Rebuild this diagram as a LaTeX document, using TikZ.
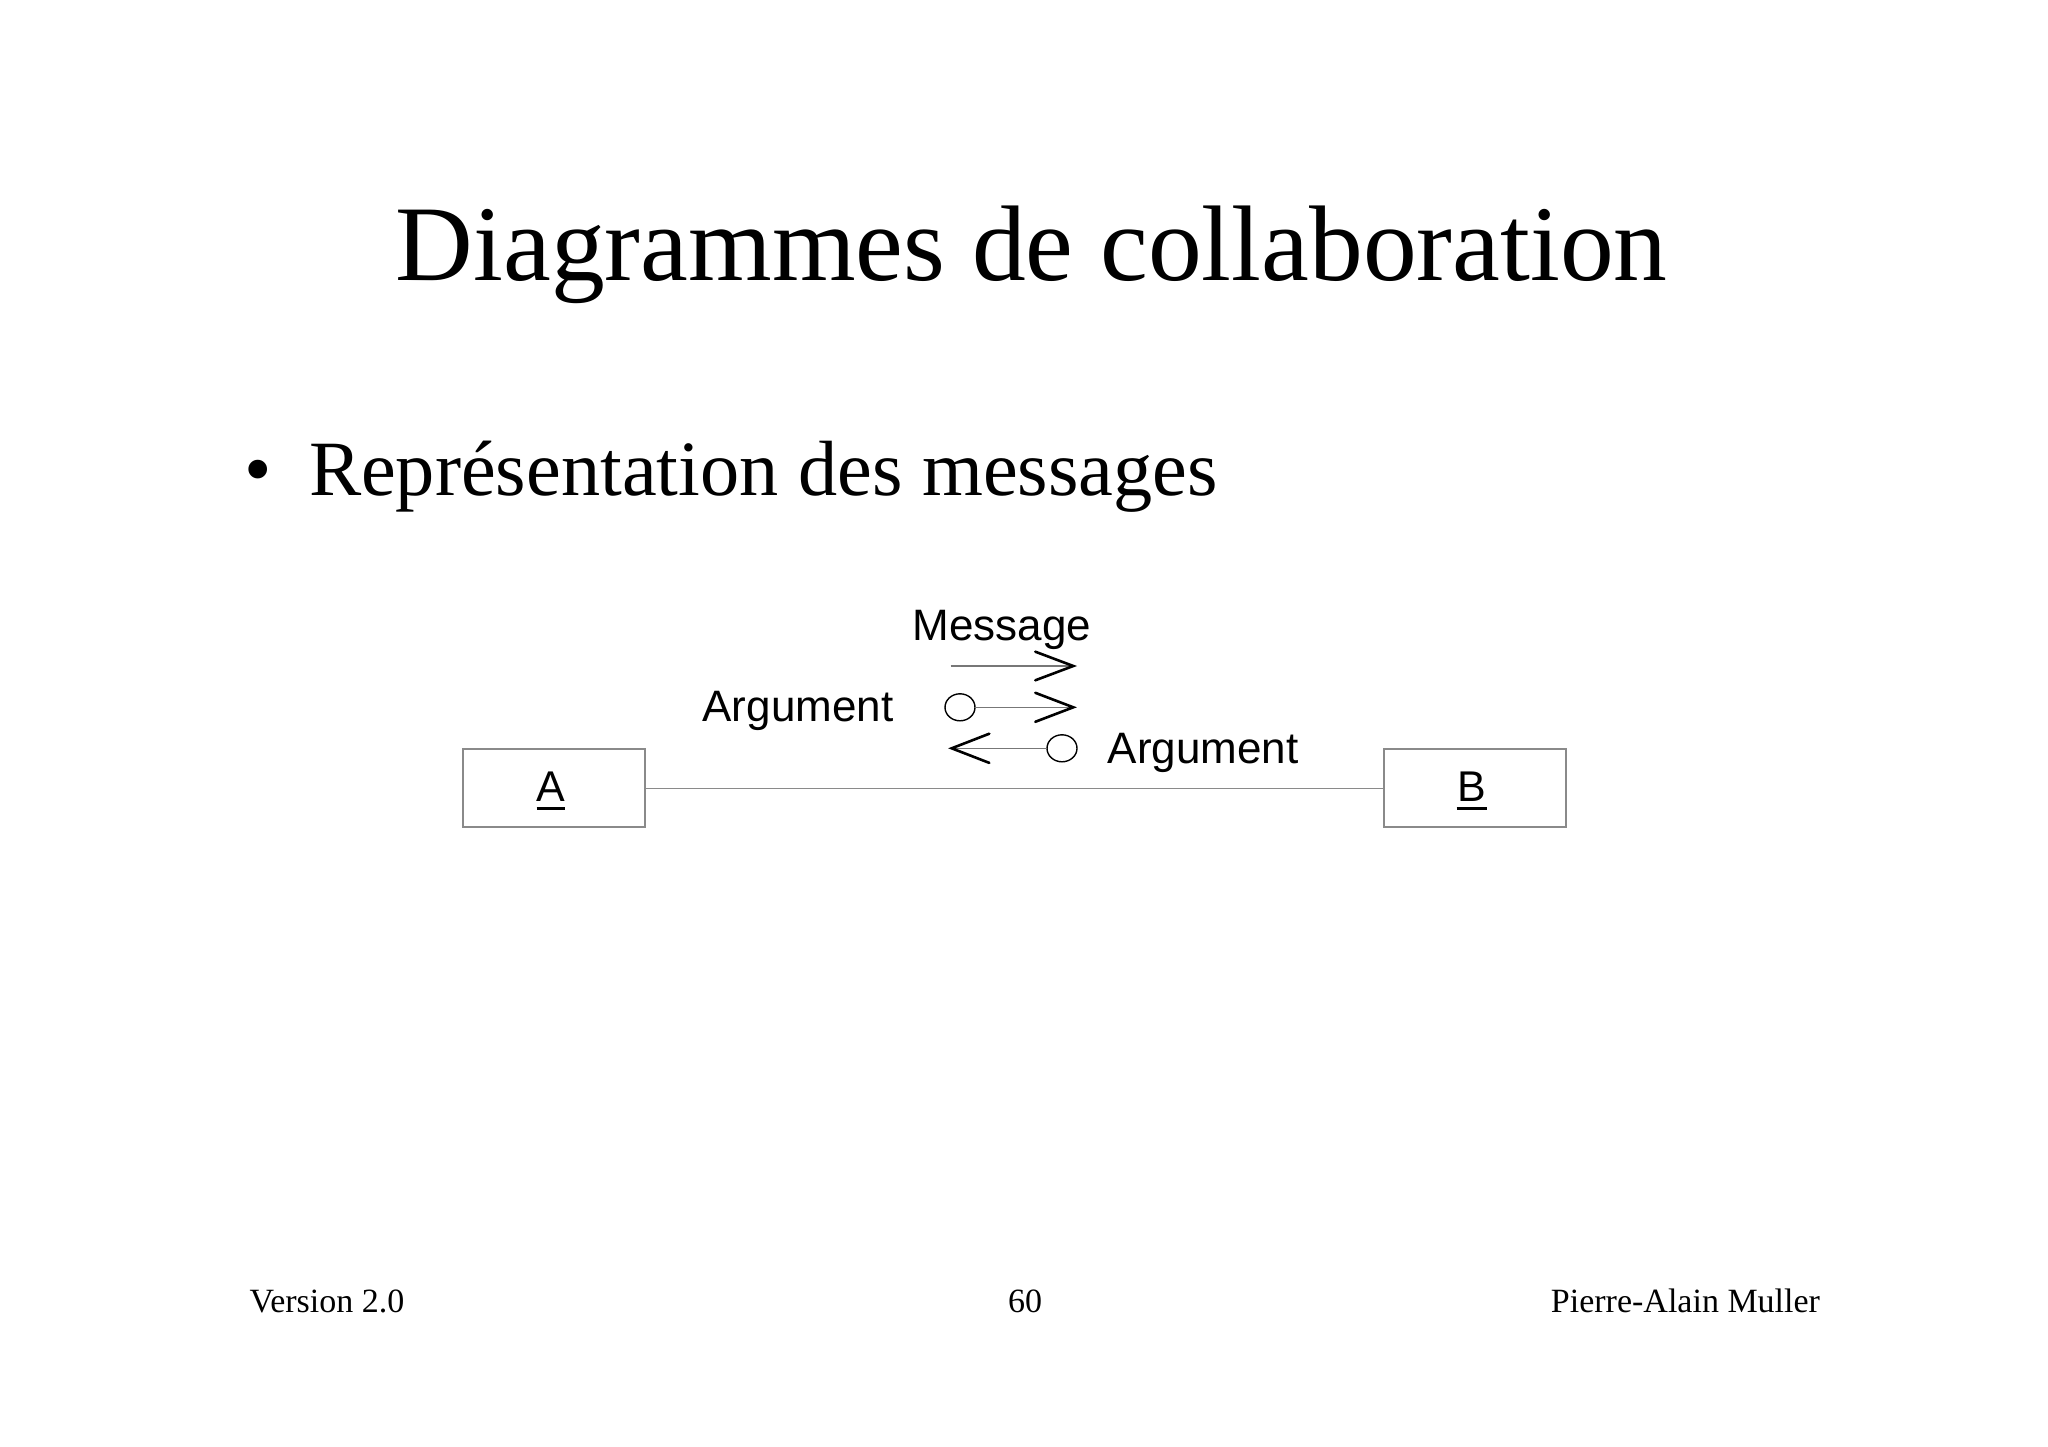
\documentclass[tikz,border=0pt]{standalone}
\usepackage{fontspec}
\setmainfont{Liberation Serif}
\newfontfamily\arialfont{Liberation Sans}
\usetikzlibrary{calc,shapes.geometric}
\definecolor{boxgray}{HTML}{8A8A8A}
\definecolor{shaftgray}{HTML}{777777}
\tikzset{
  txt/.style={inner sep=0pt, outer sep=0pt, anchor=base},
  titletxt/.style={txt, font=\fontsize{107.5}{120}\selectfont},
  bullettxt/.style={txt, anchor=base west, font=\fontsize{78.3}{90}\selectfont},
  foottxt/.style={txt, font=\fontsize{34}{40}\selectfont},
  umltxt/.style={txt, font=\arialfont\fontsize{44}{50}\selectfont},
  objbox/.style={draw=boxgray, line width=1.8pt, minimum width=181.7pt, minimum height=78pt, inner sep=0pt, outer sep=0pt},
  objlabel/.style={txt, font=\arialfont\fontsize{43}{48}\selectfont},
  uline/.style={line width=2.6pt, black},
  link/.style={draw=boxgray, line width=1.6pt},
  shaft/.style={draw=shaftgray, line width=1.6pt},
  head/.style={draw=black, line width=2.6pt, line cap=round, line join=miter},
  argcirc/.style={ellipse, draw=black, line width=1.4pt, minimum width=30pt, minimum height=27pt, inner sep=0pt, outer sep=0pt}
}
\begin{document}
\begin{tikzpicture}[x=1pt, y=-1pt]
\useasboundingbox[fill=white] (0,0) rectangle (2048,1447);

% title and bullet
\node[titletxt] (title) at (1031.7,280.7) {Diagrammes de collaboration};
\node[bullettxt] (bul) at (244,495) {•};
\node[bullettxt] (point) at (309,495) {Représentation des messages};

% objects
\node[objbox] (A) at (554.2,788.3) {};
\node[objbox] (B) at (1474.8,788.3) {};
\node[objlabel] (la) at (551,801.7) {A};
\node[objlabel] (lb) at (1472,801.7) {B};
\draw[uline] ($(la.base west)+(0,6.8)$) -- ($(la.base east)+(0,6.8)$);
\draw[uline] ($(lb.base west)+(-1,6.8)$) -- ($(lb.base east)+(1,6.8)$);
\draw[link] (A.east) -- (B.west);

% message arrow
\node[umltxt] (msg) at (1001.9,640.7) {Message};
\coordinate (s1) at (950.7,666);
\coordinate (t1) at (1073.3,666);
\draw[shaft] (s1) -- (t1);
\draw[head] ($(t1)+(-38,-14.3)$) -- (t1) -- ($(t1)+(-38,14.3)$);

% argument (forward)
\node[umltxt] (arg1) at (798,721.7) {Argument};
\node[argcirc] (c1) at (960,707.3) {};
\coordinate (t2) at (1073.3,707.3);
\draw[shaft] (c1.east) -- (t2);
\draw[head] ($(t2)+(-38,-14.5)$) -- (t2) -- ($(t2)+(-38,14.5)$);

% argument (backward)
\node[umltxt] (arg2) at (1203.3,763.3) {Argument};
\node[argcirc] (c2) at (1062,748.3) {};
\coordinate (t3) at (951.7,748.3);
\draw[shaft] (c2.west) -- (t3);
\draw[head] ($(t3)+(37.6,-14.6)$) -- (t3) -- ($(t3)+(37.6,14.6)$);

% footer
\node[foottxt, anchor=base west] (ver) at (249.5,1312.3) {Version 2.0};
\node[foottxt] (page) at (1025,1312.3) {60};
\node[foottxt, anchor=base east] (auth) at (1820,1312.3) {Pierre-Alain Muller};
\end{tikzpicture}
\end{document}
